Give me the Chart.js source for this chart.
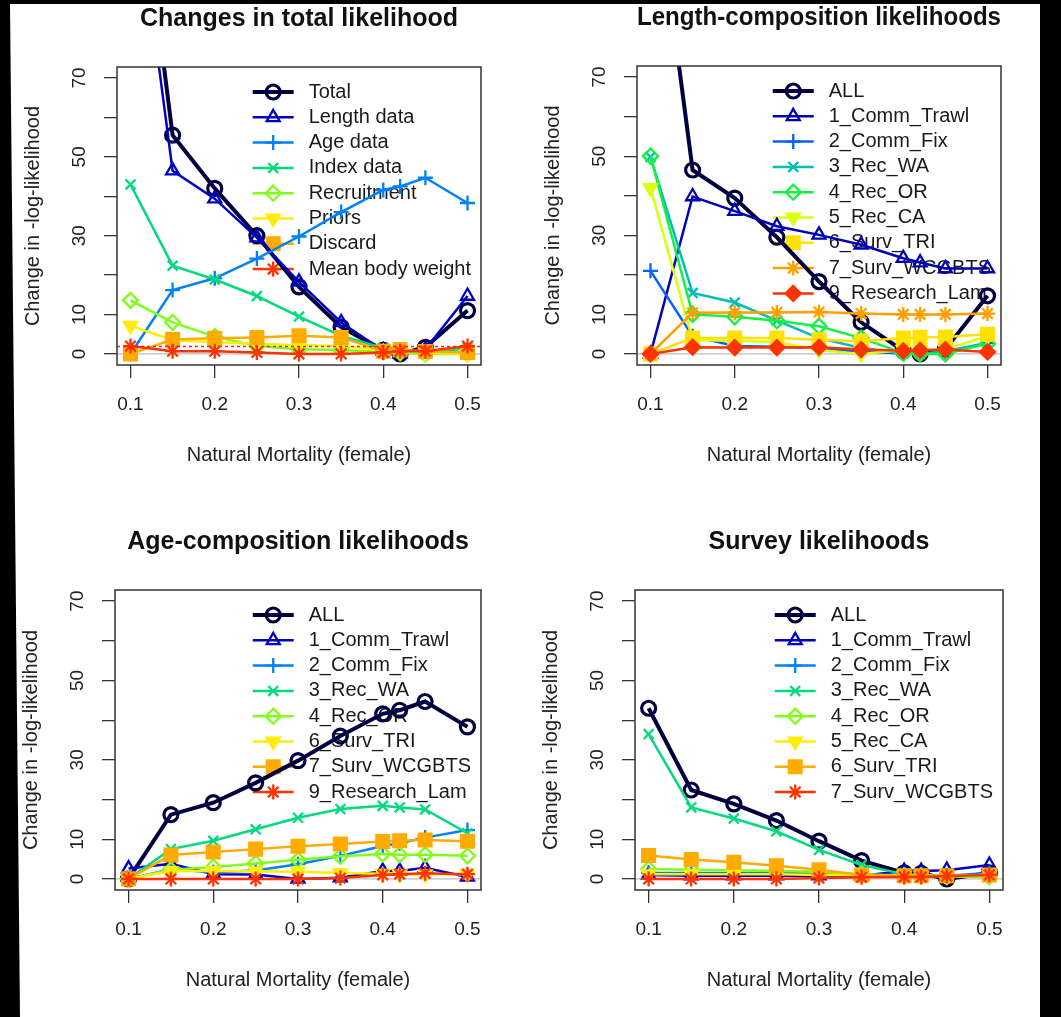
<!DOCTYPE html>
<html lang="en">
<head>
    <meta charset="UTF-8">
    <title>Likelihood profiles over natural mortality</title>
    <script src="https://cdn.jsdelivr.net/npm/chart.js"></script>
    <style>
        html, body { margin: 0; padding: 0; background: #000; }
        body { width: 1061px; height: 1017px; position: relative; overflow: hidden; }
        .sheet {
            position: absolute; inset: 0; background: #fff;
            clip-path: polygon(10px 4px, 1040px 4px, 1040px 1017px, 20px 1017px);
        }
        .panel { position: absolute; }
    </style>
</head>
<body>
    <div class="sheet"></div>
    <div class="panel" style="left:0;top:0;width:530px;height:500px"><canvas id="totalChart"></canvas></div>
    <div class="panel" style="left:530px;top:0;width:531px;height:500px"><canvas id="lengthChart"></canvas></div>
    <div class="panel" style="left:0;top:500px;width:530px;height:517px"><canvas id="ageChart"></canvas></div>
    <div class="panel" style="left:530px;top:500px;width:531px;height:517px"><canvas id="surveyChart"></canvas></div>

    <script>
        // x values (female M) and axis ticks
        const mortality = [0.1, 0.15, 0.2, 0.25, 0.3, 0.35, 0.4, 0.42, 0.45, 0.5];
        const xTicks = [0.1, 0.2, 0.3, 0.4, 0.5];
        const yTicks = [0, 10, 20, 30, 40, 50, 60, 70];
        const yTickLabels = ['0', '10', '', '30', '', '50', '', '70'];

        // Changes in total likelihood
        const totalNames = ['Total', 'Length data', 'Age data', 'Index data', 'Recruitment', 'Priors', 'Discard', 'Mean body weight'];
        const totalChange = [140, 55.5, 42, 30, 17, 6.8, 1, 0, 1.7, 11];
        const lengthData = [128, 46.5, 39.4, 29.5, 18.3, 8, 0.8, 0, 1.2, 14.7];
        const ageData = [0, 16.2, 19.2, 24.2, 29.8, 36, 41.6, 42.5, 44.7, 38.3];
        const indexData = [43, 22.4, 18.9, 14.7, 9.5, 4.6, 1.5, 1.4, 0, 1.5];
        const recruitment = [13.6, 8, 4.4, 2, 1.2, 1, 0.5, 0.3, 0, 0];
        const priors = [7.2, 3.5, 3, 2.6, 2.2, 2, 1, 0.8, 0.4, 0];
        const discard = [0, 3.7, 4, 4.2, 4.6, 4.2, 0.7, 1.1, 0.6, 0.4];
        const meanBodyWeight = [2, 0.7, 0.7, 0.4, 0, 0, 0.4, 0.7, 0.7, 2];

        // Length-composition likelihoods
        const lengthNames = ['ALL', '1_Comm_Trawl', '2_Comm_Fix', '3_Rec_WA', '4_Rec_OR', '5_Rec_CA', '6_Surv_TRI', '7_Surv_WCGBTS', '9_Research_Lam'];
        const lenAll = [128, 46.5, 39.4, 29.5, 18.3, 8, 0.8, 0, 1.2, 14.7];
        const lenCommTrawl = [0, 39.8, 36.1, 32.3, 30.1, 27.6, 24.2, 23.1, 21.6, 21.6];
        const lenCommFix = [21, 4.5, 2, 1.8, 1.5, 0.5, 0.2, 0, 0.5, 2.8];
        const lenRecWA = [49.8, 15.4, 13, 8.4, 4, 1.5, 0.2, 0, 0.7, 2.8];
        const lenRecOR = [50, 10, 9.4, 8.4, 7, 4, 0.2, 0, 0, 2.6];
        const lenRecCA = [42, 3.5, 3.3, 3, 1, 0, 1, 1, 1.2, 4.5];
        const lenSurvTRI = [0, 4, 4, 4, 3.6, 3.2, 4, 4.2, 4.3, 5];
        const lenSurvWCGBTS = [0, 10.4, 10.5, 10.5, 10.6, 10.2, 10, 10, 10, 10.2];
        const lenResearchLam = [0, 1.7, 1.6, 1.6, 1.7, 1.1, 0.8, 0.9, 1.1, 0.5];

        // Age-composition likelihoods
        const ageNames = ['ALL', '1_Comm_Trawl', '2_Comm_Fix', '3_Rec_WA', '4_Rec_OR', '6_Surv_TRI', '7_Surv_WCGBTS', '9_Research_Lam'];
        const ageAll = [0, 16.2, 19.2, 24.2, 29.8, 36, 41.6, 42.5, 44.7, 38.3];
        const ageCommTrawl = [2.6, 3.8, 1.2, 1.1, 0, 0.3, 2, 2, 2.8, 0.5];
        const ageCommFix = [0, 2.4, 1.7, 2.1, 3.7, 5.8, 8.3, 9, 10.4, 12.3];
        const ageRecWA = [0, 7.5, 9.6, 12.5, 15.4, 17.6, 18.4, 18, 17.5, 11.5];
        const ageRecOR = [0, 2.3, 3, 3.9, 4.8, 5.7, 6.3, 6.1, 6.1, 5.8];
        const ageSurvTRI = [0, 2, 2, 1.9, 1.8, 1.5, 1.3, 1.2, 1.2, 1.2];
        const ageSurvWCGBTS = [0, 6, 6.8, 7.5, 8.2, 8.8, 9.4, 9.6, 9.8, 9.5];
        const ageResearchLam = [0, 0, 0, 0, 0, 0.2, 1, 1.2, 1.4, 1.2];

        // Survey likelihoods
        const surveyNames = ['ALL', '1_Comm_Trawl', '2_Comm_Fix', '3_Rec_WA', '4_Rec_OR', '5_Rec_CA', '6_Surv_TRI', '7_Surv_WCGBTS'];
        const survAll = [43, 22.4, 18.9, 14.7, 9.5, 4.6, 1.5, 1.4, 0, 1.5];
        const survCommTrawl = [1, 0.8, 0.8, 0.8, 0.8, 0.8, 2, 2, 2.2, 3.5];
        const survCommFix = [1.5, 1.5, 1.5, 1.5, 1.3, 1, 1, 1, 0.8, 1.5];
        const survRecWA = [36.5, 18, 15.2, 12, 7.3, 3.5, 1.2, 1, 0.8, 0.8];
        const survRecOR = [2.5, 2.3, 2.2, 2, 1.8, 1.2, 0.8, 0.8, 0.6, 0.5];
        const survRecCA = [1.2, 1.2, 1.2, 1.2, 1, 1, 0.8, 0.8, 0.8, 1];
        const survSurvTRI = [5.9, 4.9, 4.2, 3.3, 2.3, 1, 0.8, 0.8, 0.8, 1];
        const survSurvWCGBTS = [0, 0, 0, 0, 0.2, 0.4, 0.5, 0.5, 0.7, 1];

        // styling
        const FONT = '"Liberation Sans", Arial, Helvetica, sans-serif';
        const colors8 = ['#000040', '#0000C6', '#0081F8', '#02DA7D', '#80FE1A', '#FDEE02', '#FFAB00', '#FF3300'];
        const colors9 = ['#000040', '#0000B4', '#0063FF', '#00BEB4', '#13F240', '#DDFE0B', '#FFE201', '#FF9F00', '#FF3300'];
        // R pch 1, 2, 3, 4, 5, 6, 15, 8, 18
        const symbols = [
            { style: 'circle', radius: 7, fill: false },
            { style: 'triangle', radius: 7.5, fill: false },
            { style: 'cross', radius: 7.5, fill: false },
            { style: 'crossRot', radius: 7, fill: false },
            { style: 'rectRot', radius: 7.5, fill: false },
            { style: 'triangle', radius: 7.5, fill: true, rotation: 180 },
            { style: 'rect', radius: 9, fill: true },
            { style: 'star', radius: 7.5, fill: false },
            { style: 'rectRot', radius: 7.5, fill: true }
        ];

        function buildDatasets(names, series, colors) {
            return series.map((values, i) => {
                const sym = symbols[i];
                return {
                    label: names[i],
                    data: values.map((v, k) => ({ x: mortality[k], y: v })),
                    borderColor: colors[i],
                    backgroundColor: colors[i],
                    borderWidth: i === 0 ? 4 : 2.5,
                    tension: 0,
                    pointStyle: sym.style,
                    pointRadius: sym.radius,
                    pointRotation: sym.rotation || 0,
                    pointBorderWidth: i === 0 ? 3.2 : 2.3,
                    pointBorderColor: colors[i],
                    pointBackgroundColor: sym.fill ? colors[i] : 'rgba(0,0,0,0)',
                    order: series.length - i
                };
            });
        }

        // box, zero line, reference line and rotated y labels, like base R
        const rFrame = {
            id: 'rFrame',
            beforeDatasetsDraw(chart) {
                const { ctx, chartArea: a, scales: { y } } = chart;
                const y0 = y.getPixelForValue(0);
                ctx.save();
                ctx.strokeStyle = '#bdbdbd';
                ctx.lineWidth = 1.2;
                ctx.beginPath();
                ctx.moveTo(a.left, y0);
                ctx.lineTo(a.right, y0);
                ctx.stroke();
                ctx.restore();
            },
            afterDatasetsDraw(chart, args, opts) {
                if (opts.refLine == null) return;
                const { ctx, chartArea: a, scales: { y } } = chart;
                const py = y.getPixelForValue(opts.refLine);
                ctx.save();
                ctx.strokeStyle = '#ff2020';
                ctx.lineWidth = 1.5;
                ctx.setLineDash([3, 3]);
                ctx.beginPath();
                ctx.moveTo(a.left, py);
                ctx.lineTo(a.right, py);
                ctx.stroke();
                ctx.restore();
            },
            afterDraw(chart) {
                const { ctx, chartArea: a, scales: { y } } = chart;
                ctx.save();
                ctx.strokeStyle = '#333';
                ctx.lineWidth = 1.5;
                ctx.strokeRect(a.left, a.top, a.width, a.height);
                ctx.fillStyle = '#222';
                ctx.font = '19px ' + FONT;
                ctx.textAlign = 'center';
                ctx.textBaseline = 'middle';
                yTicks.forEach((v, i) => {
                    if (!yTickLabels[i]) return;
                    ctx.save();
                    ctx.translate(a.left - 37, y.getPixelForValue(v));
                    ctx.rotate(-Math.PI / 2);
                    ctx.fillText(yTickLabels[i], 0, 0);
                    ctx.restore();
                });
                ctx.restore();
            }
        };

        // R style legend (line + symbol), top right, no box
        const rLegend = {
            id: 'rLegend',
            beforeDatasetsDraw(chart) {
                const { ctx, chartArea: a } = chart;
                const sets = chart.data.datasets;
                ctx.save();
                ctx.font = '20px ' + FONT;
                const maxW = Math.max(...sets.map(d => ctx.measureText(d.label).width));
                const textX = a.right - 10 - maxW;
                sets.forEach((d, i) => {
                    const py = a.top + 25 + i * 25.3;
                    ctx.strokeStyle = d.borderColor;
                    ctx.lineWidth = d.borderWidth;
                    ctx.beginPath();
                    ctx.moveTo(textX - 56, py);
                    ctx.lineTo(textX - 15, py);
                    ctx.stroke();
                    ctx.fillStyle = d.pointBackgroundColor;
                    ctx.lineWidth = d.pointBorderWidth;
                    Chart.helpers.drawPoint(ctx, {
                        pointStyle: d.pointStyle,
                        radius: d.pointRadius,
                        rotation: d.pointRotation,
                        borderWidth: d.pointBorderWidth
                    }, textX - 35.5, py);
                    ctx.fillStyle = '#1a1a1a';
                    ctx.textAlign = 'left';
                    ctx.textBaseline = 'middle';
                    ctx.fillText(d.label, textX, py);
                });
                ctx.restore();
            }
        };

        function makePanel(id, cfg) {
            const W = cfg.width, H = cfg.height, A = cfg.area;
            const gridOpts = { drawOnChartArea: false, drawTicks: true, tickLength: 13, color: '#333', lineWidth: 1.3 };
            new Chart(document.getElementById(id), {
                type: 'line',
                data: { datasets: buildDatasets(cfg.names, cfg.series, cfg.colors) },
                options: {
                    responsive: true,
                    maintainAspectRatio: false,
                    animation: false,
                    events: [],
                    layout: { padding: { left: 0, top: 0, right: W - A.r, bottom: 0 } },
                    plugins: {
                        legend: { display: false },
                        tooltip: { enabled: false },
                        title: {
                            display: true,
                            text: cfg.title,
                            fullSize: false,
                            color: '#111',
                            font: { family: FONT, size: 25, weight: 'bold', lineHeight: 1.2 },
                            padding: { top: A.t - 63, bottom: 33 }
                        },
                        rFrame: { refLine: cfg.refLine }
                    },
                    scales: {
                        x: {
                            type: 'linear',
                            min: 0.084,
                            max: 0.516,
                            afterBuildTicks: s => { s.ticks = xTicks.map(v => ({ value: v })); },
                            afterFit: s => { s.height = H - A.b; },
                            grid: gridOpts,
                            border: { display: false },
                            ticks: {
                                color: '#222',
                                font: { family: FONT, size: 19 },
                                padding: 15,
                                maxRotation: 0,
                                callback: v => v.toFixed(1)
                            },
                            title: {
                                display: true,
                                text: 'Natural Mortality (female)',
                                color: '#222',
                                font: { family: FONT, size: 20, lineHeight: 1.2 },
                                padding: { top: 0, bottom: H - A.b - 102 }
                            }
                        },
                        y: {
                            type: 'linear',
                            min: -2.8,
                            max: 72.8,
                            afterBuildTicks: s => { s.ticks = yTicks.map(v => ({ value: v })); },
                            afterFit: s => { s.width = A.l; },
                            grid: gridOpts,
                            border: { display: false },
                            ticks: { display: false },
                            title: {
                                display: true,
                                text: 'Change in -log-likelihood',
                                color: '#222',
                                font: { family: FONT, size: 20, lineHeight: 1.2 },
                                padding: { top: A.l - 96, bottom: 0 }
                            }
                        }
                    }
                },
                plugins: [rFrame, rLegend]
            });
        }

        makePanel('totalChart', {
            width: 530, height: 500,
            area: { l: 117, t: 67, r: 481, b: 365 },
            title: 'Changes in total likelihood',
            names: totalNames,
            series: [totalChange, lengthData, ageData, indexData, recruitment, priors, discard, meanBodyWeight],
            colors: colors8,
            refLine: 1.92
        });

        makePanel('lengthChart', {
            width: 531, height: 500,
            area: { l: 107, t: 66, r: 471, b: 365 },
            title: 'Length-composition likelihoods',
            names: lengthNames,
            series: [lenAll, lenCommTrawl, lenCommFix, lenRecWA, lenRecOR, lenRecCA, lenSurvTRI, lenSurvWCGBTS, lenResearchLam],
            colors: colors9
        });

        makePanel('ageChart', {
            width: 530, height: 517,
            area: { l: 115, t: 90, r: 481, b: 390 },
            title: 'Age-composition likelihoods',
            names: ageNames,
            series: [ageAll, ageCommTrawl, ageCommFix, ageRecWA, ageRecOR, ageSurvTRI, ageSurvWCGBTS, ageResearchLam],
            colors: colors8
        });

        makePanel('surveyChart', {
            width: 531, height: 517,
            area: { l: 105, t: 90, r: 473, b: 390 },
            title: 'Survey likelihoods',
            names: surveyNames,
            series: [survAll, survCommTrawl, survCommFix, survRecWA, survRecOR, survRecCA, survSurvTRI, survSurvWCGBTS],
            colors: colors8
        });
    </script>
</body>
</html>
